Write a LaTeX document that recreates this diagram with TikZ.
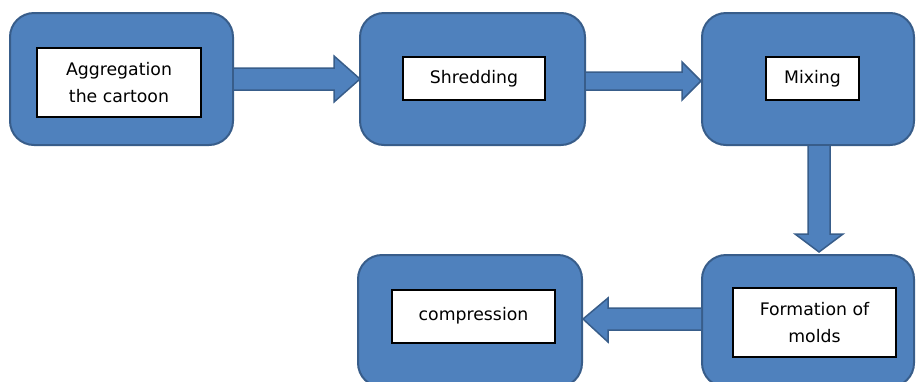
\documentclass[tikz,border=0pt]{standalone}
\usepackage{fontspec}
\setmainfont{DejaVu Sans}
\usetikzlibrary{calc}
\definecolor{boxfill}{HTML}{4F81BD}
\definecolor{boxline}{HTML}{385D8A}
\tikzset{
  outerbox/.style={draw=boxline, fill=boxfill, line width=2pt, rounded corners=24pt, inner sep=0pt},
  innerbox/.style={draw=black, fill=white, line width=1.2pt, inner sep=0pt, align=center,
    font=\fontsize{17.3}{27}\selectfont},
  blockarrow/.style={draw=boxline, fill=boxfill, line width=1.5pt, line join=miter}
}
\begin{document}
\begin{tikzpicture}[x=1pt,y=-1pt]
\useasboundingbox (0,0) rectangle (916,381);
\begin{scope}
\clip (0,0) rectangle (916,381);
% outer boxes
\node[outerbox, minimum width=223pt, minimum height=132pt] (b1) at (121.5,79) {};
\node[outerbox, minimum width=225pt, minimum height=132pt] (b2) at (472.5,79) {};
\node[outerbox, minimum width=212pt, minimum height=132pt] (b3) at (808,79) {};
\node[outerbox, minimum width=224pt, minimum height=132pt] (b4) at (470,321) {};
\node[outerbox, minimum width=212pt, minimum height=132pt] (b5) at (808,321) {};
% block arrows
\draw[blockarrow] ($(b1.east)+(0,-11)$) -- ($(b2.west)+(-25,-11)$) -- ($(b2.west)+(-25,-23)$)
  -- ($(b2.west)+(1,0)$) -- ($(b2.west)+(-25,23)$) -- ($(b2.west)+(-25,11)$) -- ($(b1.east)+(0,11)$);
\draw[blockarrow] ($(b2.east)+(0,-7)$) -- ($(b3.west)+(-19,-7)$) -- ($(b3.west)+(-19,-17)$)
  -- ($(b3.west)+(0,2)$) -- ($(b3.west)+(-19,21)$) -- ($(b3.west)+(-19,11)$) -- ($(b2.east)+(0,11)$);
\draw[blockarrow] ($(b3.south)+(0,0)$) -- ($(b5.north)+(0,-20)$) -- ($(b5.north)+(-13,-20)$)
  -- ($(b5.north)+(11,-2)$) -- ($(b5.north)+(35,-20)$) -- ($(b5.north)+(22,-20)$) -- ($(b3.south)+(22,0)$);
\draw[blockarrow] ($(b5.west)+(0,-13)$) -- ($(b4.east)+(25,-13)$) -- ($(b4.east)+(25,-23)$)
  -- ($(b4.east)+(0,-2)$) -- ($(b4.east)+(25,21)$) -- ($(b4.east)+(25,9)$) -- ($(b5.west)+(0,9)$);
% inner boxes
\node[innerbox, minimum width=164pt, minimum height=69pt] (t1) at (119,82.5) {Aggregation\\the cartoon};
\node[innerbox, minimum width=142pt, minimum height=43pt] (t2) at (474,78.5) {Shredding};
\node[innerbox, minimum width=93pt, minimum height=43pt] (t3) at (812.5,78.5) {Mixing};
\node[innerbox, minimum width=163pt, minimum height=53pt] (t4) at (473.5,316.5) {\raisebox{6pt}{compression}};
\node[innerbox, minimum width=163pt, minimum height=69pt] (t5) at (814.5,322.5) {Formation of\\molds};
\end{scope}
\end{tikzpicture}
\end{document}
